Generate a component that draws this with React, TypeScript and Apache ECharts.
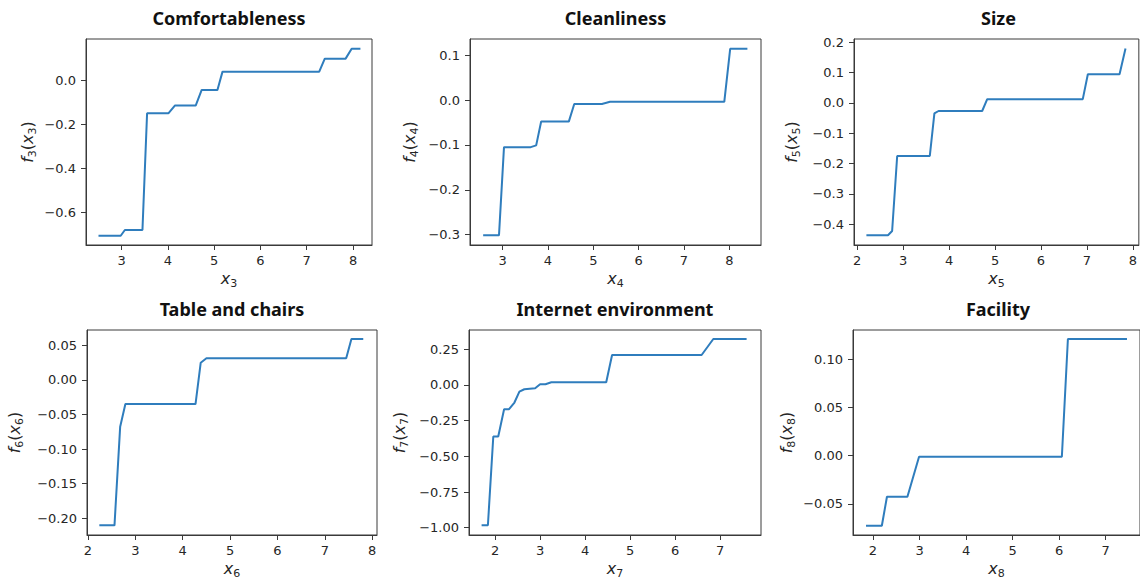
import React, { useEffect, useRef } from "react";
import * as echarts from "echarts";

// ---------- data ----------
const titles = ["Comfortableness", "Cleanliness", "Size", "Table and chairs", "Internet environment", "Facility"];
const featureIdx = [3, 4, 5, 6, 7, 8];

const x3 = [2.50, 2.98, 3.07, 3.45, 3.55, 4.01, 4.15, 4.60, 4.73, 5.07, 5.18, 7.27, 7.39, 7.84, 7.97, 8.16];
const y3 = [-0.706, -0.706, -0.680, -0.680, -0.151, -0.151, -0.116, -0.116, -0.045, -0.045, 0.038, 0.038, 0.097, 0.097, 0.142, 0.142];

const x4 = [2.57, 2.92, 3.03, 3.62, 3.74, 3.85, 4.46, 4.58, 5.19, 5.37, 7.89, 8.02, 8.40];
const y4 = [-0.301, -0.301, -0.105, -0.105, -0.101, -0.048, -0.048, -0.009, -0.009, -0.004, -0.004, 0.114, 0.114];

const x5 = [2.20, 2.67, 2.76, 2.87, 3.58, 3.68, 3.77, 4.72, 4.83, 6.91, 7.02, 7.71, 7.84];
const y5 = [-0.436, -0.436, -0.422, -0.175, -0.175, -0.035, -0.027, -0.027, 0.012, 0.012, 0.094, 0.094, 0.179];

const x6 = [2.24, 2.56, 2.68, 2.79, 4.27, 4.38, 4.50, 7.45, 7.56, 7.81];
const y6 = [-0.2105, -0.2105, -0.0676, -0.0348, -0.0348, 0.025, 0.0314, 0.0314, 0.0594, 0.0594];

const x7 = [1.70, 1.84, 1.96, 2.07, 2.20, 2.31, 2.43, 2.54, 2.65, 2.89, 3.00, 3.12, 3.25, 4.47, 4.60, 6.59, 6.85, 7.59];
const y7 = [-0.983, -0.983, -0.361, -0.361, -0.170, -0.170, -0.123, -0.047, -0.030, -0.023, 0.005, 0.005, 0.019, 0.019, 0.210, 0.210, 0.322, 0.322];

const x8 = [1.85, 2.19, 2.30, 2.74, 2.99, 6.06, 6.19, 7.46];
const y8 = [-0.0728, -0.0728, -0.0426, -0.0426, -0.001, -0.001, 0.1213, 0.1213];

const xTicks3 = [3, 4, 5, 6, 7, 8];
const yTicks3 = [-0.6, -0.4, -0.2, 0.0];
const xTicks4 = [3, 4, 5, 6, 7, 8];
const yTicks4 = [-0.3, -0.2, -0.1, 0.0, 0.1];
const xTicks5 = [2, 3, 4, 5, 6, 7, 8];
const yTicks5 = [-0.4, -0.3, -0.2, -0.1, 0.0, 0.1, 0.2];
const xTicks6 = [2, 3, 4, 5, 6, 7, 8];
const yTicks6 = [-0.2, -0.15, -0.1, -0.05, 0.0, 0.05];
const xTicks7 = [2, 3, 4, 5, 6, 7];
const yTicks7 = [-1.0, -0.75, -0.5, -0.25, 0.0, 0.25];
const xTicks8 = [2, 3, 4, 5, 6, 7];
const yTicks8 = [-0.05, 0.0, 0.05, 0.1];
const yDecimals = [1, 1, 1, 2, 2, 2];

const xsAll = [x3, x4, x5, x6, x7, x8];
const ysAll = [y3, y4, y5, y6, y7, y8];
const xTicksAll = [xTicks3, xTicks4, xTicks5, xTicks6, xTicks7, xTicks8];
const yTicksAll = [yTicks3, yTicks4, yTicks5, yTicks6, yTicks7, yTicks8];

// ---------- layout ----------
const panels = [
  { left: 86, top: 39, width: 286, height: 206, xMin: 2.23, xMax: 8.41, yMin: -0.748, yMax: 0.186, yGap: 48 },
  { left: 470, top: 39, width: 291, height: 206, xMin: 2.28, xMax: 8.70, yMin: -0.323, yMax: 0.136, yGap: 50 },
  { left: 854, top: 39, width: 289, height: 206, xMin: 1.93, xMax: 8.13, yMin: -0.468, yMax: 0.210, yGap: 52 },
  { left: 87, top: 330, width: 290, height: 205, xMin: 1.98, xMax: 8.10, yMin: -0.2245, yMax: 0.0724, yGap: 62 },
  { left: 469, top: 330, width: 292, height: 205, xMin: 1.42, xMax: 7.91, yMin: -1.051, yMax: 0.385, yGap: 59 },
  { left: 853, top: 330, width: 290, height: 205, xMin: 1.57, xMax: 7.74, yMin: -0.0824, yMax: 0.1307, yGap: 56 },
];

const LINE = "#2f7dbd";
const FRAME = "#3a3a3a";
const TEXT = "#262626";
const MATH = "DejaVu Sans";

const fmt = (v: number, d: number) => (v < -1e-9 ? "\u2212" : "") + Math.abs(v).toFixed(d);

const rich = {
  i: { fontFamily: MATH, fontStyle: "italic", fontSize: 16, color: TEXT, lineHeight: 22 },
  p: { fontFamily: MATH, fontSize: 16, color: TEXT, lineHeight: 22 },
  s: { fontFamily: MATH, fontSize: 11, color: TEXT, lineHeight: 11, verticalAlign: "bottom" },
};

export default function App() {
  const ref = useRef<HTMLDivElement>(null);
  useEffect(() => {
    if (!ref.current) return;
    const chart = echarts.init(ref.current, undefined, { renderer: "svg" });

    const grid = panels.map((p) => ({
      left: p.left, top: p.top, width: p.width, height: p.height,
      show: true, borderColor: FRAME, borderWidth: 1, backgroundColor: "transparent",
      containLabel: false,
    }));

    const xAxis = panels.map((p, i) => ({
      type: "value", gridIndex: i, min: p.xMin, max: p.xMax,
      name: `{i|x}{s|${featureIdx[i]}}`,
      nameLocation: "middle", nameGap: 22,
      nameTextStyle: { rich },
      axisLine: { show: true, onZero: false, lineStyle: { color: FRAME, width: 1 } },
      axisTick: { show: true, length: 5, customValues: xTicksAll[i], lineStyle: { color: FRAME, width: 1 } },
      axisLabel: {
        customValues: xTicksAll[i], margin: 9, color: TEXT, fontFamily: MATH, fontSize: 13,
        formatter: (v: number) => fmt(v, 0),
      },
      splitLine: { show: false },
    }));

    const yAxis = panels.map((p, i) => ({
      type: "value", gridIndex: i, min: p.yMin, max: p.yMax,
      name: `{i|f}{s|${featureIdx[i]}}{p|(}{i|x}{s|${featureIdx[i]}}{p|)}`,
      nameLocation: "middle", nameGap: p.yGap, nameRotate: 90,
      nameTextStyle: { rich },
      axisLine: { show: true, onZero: false, lineStyle: { color: FRAME, width: 1 } },
      axisTick: { show: true, length: 5, customValues: yTicksAll[i], lineStyle: { color: FRAME, width: 1 } },
      axisLabel: {
        customValues: yTicksAll[i], margin: 10, color: TEXT, fontFamily: MATH, fontSize: 13,
        formatter: (v: number) => fmt(v, yDecimals[i]),
      },
      splitLine: { show: false },
    }));

    const series = panels.map((_, i) => ({
      type: "line", xAxisIndex: i, yAxisIndex: i,
      data: xsAll[i].map((x, k) => [x, ysAll[i][k]]),
      showSymbol: false, symbol: "none",
      lineStyle: { color: LINE, width: 2 },
      itemStyle: { color: LINE },
    }));

    const graphic = panels.map((p, i) => ({
      type: "text",
      x: p.left + p.width / 2,
      y: p.top - 21,
      style: {
        text: titles[i], fontFamily: "Noto Sans", fontWeight: "bold", fontSize: 18, fill: "#111",
        align: "center", verticalAlign: "middle",
      },
    }));

    chart.setOption({
      animation: false,
      backgroundColor: "#ffffff",
      grid, xAxis, yAxis, series, graphic,
    } as any);
    return () => chart.dispose();
  }, []);
  return <div ref={ref} style={{ position: "fixed", left: 0, top: 0, width: 1140, height: 581 }} />;
}
